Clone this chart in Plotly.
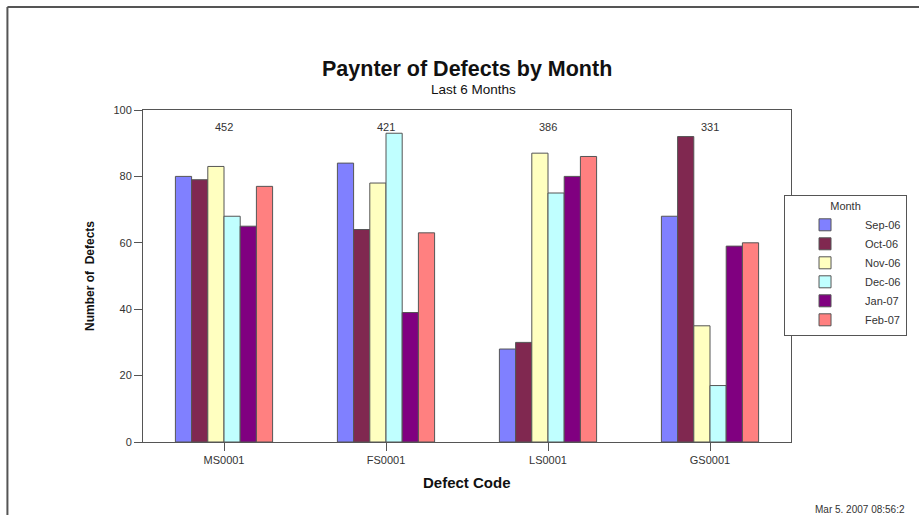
import plotly.graph_objects as go

categories = ["MS0001", "FS0001", "LS0001", "GS0001"]
months = ["Sep-06", "Oct-06", "Nov-06", "Dec-06", "Jan-07", "Feb-07"]
sep06 = [80, 84, 28, 68]
oct06 = [79, 64, 30, 92]
nov06 = [83, 78, 87, 35]
dec06 = [68, 93, 75, 17]
jan07 = [65, 39, 80, 59]
feb07 = [77, 63, 86, 60]
series = [sep06, oct06, nov06, dec06, jan07, feb07]
colors = ["#8080FF", "#802850", "#FFFFC0", "#C0FFFF", "#800080", "#FF8080"]
y_ticks = [0, 20, 40, 60, 80, 100]

W, H = 919, 515
L, R, T, B = 143, 126, 110, 73
pw, ph = W - L - R, H - T - B

def px_x(x):
    return (x - L) / pw

def px_y(y):
    return (H - B - y) / ph

FONT = "Liberation Sans, Arial, sans-serif"

fig = go.Figure()
for name, vals, c in zip(months, series, colors):
    fig.add_trace(go.Bar(
        x=categories, y=vals, name=name,
        marker=dict(color=c, line=dict(color="#555555", width=1)),
    ))

totals = [sum(v) for v in zip(*series)]
for cat, tot in zip(categories, totals):
    fig.add_annotation(x=cat, y=95, xref="x", yref="y", text=str(tot), yanchor="middle",
                       showarrow=False, font=dict(size=11, color="#333333", family=FONT))

fig.add_annotation(x=px_x(468), y=px_y(69), xref="paper", yref="paper",
                   text="<b>Paynter of Defects by Month</b>", showarrow=False,
                   xanchor="center", yanchor="middle",
                   font=dict(size=21.5, color="#111111", family=FONT))
fig.add_annotation(x=px_x(475), y=px_y(89), xref="paper", yref="paper",
                   text="Last 6 Months", showarrow=False,
                   xanchor="center", yanchor="middle",
                   font=dict(size=13.5, color="#111111", family=FONT))
fig.add_annotation(x=px_x(468), y=px_y(482), xref="paper", yref="paper",
                   text="<b>Defect Code</b>", showarrow=False,
                   xanchor="center", yanchor="middle",
                   font=dict(size=15, color="#111111", family=FONT))
fig.add_annotation(x=px_x(815), y=px_y(509), xref="paper", yref="paper",
                   text="Mar 5. 2007 08:56:2", showarrow=False,
                   xanchor="left", yanchor="middle",
                   font=dict(size=10, color="#333333", family=FONT))

# outer frame (top & left)
fig.add_shape(type="line", xref="paper", yref="paper",
              x0=px_x(7), x1=px_x(W + 5), y0=px_y(7), y1=px_y(7),
              line=dict(color="#555555", width=2))
fig.add_shape(type="line", xref="paper", yref="paper",
              x0=px_x(7), x1=px_x(7), y0=px_y(7), y1=px_y(H + 5),
              line=dict(color="#555555", width=2))

fig.update_layout(
    width=W, height=H,
    margin=dict(l=L, r=R, t=T, b=B),
    paper_bgcolor="white", plot_bgcolor="white",
    barmode="group", bargap=0.4, bargroupgap=0,
    font=dict(family=FONT, color="#333333"),
    showlegend=True,
    legend=dict(
        x=px_x(786), y=px_y(195), xanchor="left", yanchor="top",
        bordercolor="#555555", borderwidth=1, bgcolor="white",
        title=dict(text="Month", side="top center", font=dict(size=11, color="#333333")),
        font=dict(size=11, color="#333333"),
        itemwidth=70, tracegroupgap=0,
    ),
    xaxis=dict(
        showline=True, linecolor="#555555", linewidth=1, mirror=True,
        ticks="outside", ticklen=8, tickcolor="#555555",
        tickfont=dict(size=11, color="#333333"),
    ),
    yaxis=dict(
        range=[0, 100], tickvals=y_ticks, showgrid=False, zeroline=False,
        showline=True, linecolor="#555555", linewidth=1, mirror=True,
        ticks="outside", ticklen=8, tickcolor="#555555",
        tickfont=dict(size=11, color="#333333"),
        title=dict(text="<b>Number of  Defects</b>", font=dict(size=12, color="#111111"), standoff=16),
    ),
)

fig.write_html("out.html", config={"displayModeBar": False},
               post_script="document.body.style.margin='0';")
